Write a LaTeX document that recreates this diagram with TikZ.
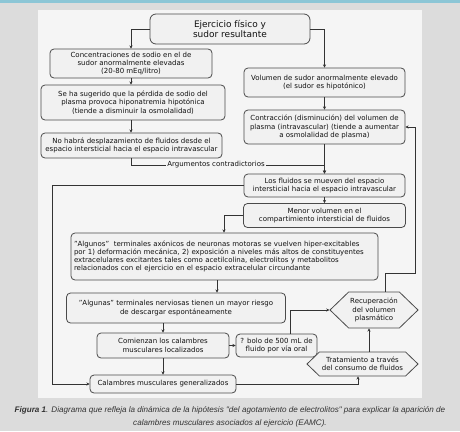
\documentclass[tikz,border=0pt]{standalone}
\usepackage{fontspec}
\setmainfont{DejaVu Sans}
\newfontfamily\capfont{Liberation Sans}
\usetikzlibrary{shapes.symbols,arrows.meta}
\definecolor{outerbg}{HTML}{DCDCDC}
\definecolor{topblue}{HTML}{8CC6D6}
\definecolor{panel}{HTML}{F5F5F5}
\definecolor{boxfill}{HTML}{F1F1F1}
\definecolor{boxline}{HTML}{4A4A4A}
\definecolor{connc}{HTML}{333333}
\definecolor{txt}{HTML}{111111}
\definecolor{capc}{HTML}{333333}
\begin{document}
\begin{tikzpicture}[x=1pt,y=-1pt,
  box/.style={draw=boxline, fill=boxfill, rounded corners=4pt, line width=0.8pt,
    align=center, inner sep=0pt, text=txt, font=\fontsize{7}{8.3}\selectfont},
  hexa/.style={draw=boxline, fill=boxfill, shape=signal, signal to=east and west,
    signal pointer angle=88, line width=0.8pt, align=center, inner sep=0pt,
    text=txt, font=\fontsize{7}{8.3}\selectfont},
  conn/.style={draw=connc, line width=0.7pt},
  arr/.style={conn, -{Stealth[length=3.2pt,width=3.2pt]}}]
\useasboundingbox (0,0) rectangle (460,431);
\fill[outerbg] (0,0) rectangle (460,431);
\fill[topblue] (0,0) rectangle (460,2.5);
\fill[panel] (38,10) rectangle (422,398);

% nodes
\node[box, minimum width=160, minimum height=30, rounded corners=6pt,
  font=\fontsize{9}{10.2}\selectfont] (n1) at (230,29) {Ejercicio físico y\\sudor resultante};
\node[box, minimum width=162, minimum height=29] (n2) at (131,63.5)
  {Concentraciones de sodio en el de\\sudor anormalmente elevadas\\(20-80 mEq/litro)};
\node[box, minimum width=184, minimum height=35] (n3) at (133,102.5)
  {Se ha sugerido que la pérdida de sodio del\\plasma provoca hiponatremia hipotónica\\(tiende a disminuir la osmolalidad)};
\node[box, minimum width=181, minimum height=25] (n4) at (131.5,145.5)
  {No habrá desplazamiento de fluidos desde el\\espacio intersticial hacia el espacio intravascular};
\node[inner sep=1.5pt, text=txt, font=\fontsize{7}{8.3}\selectfont] (arg) at (216,165)
  {Argumentos contradictorios};
\node[box, minimum width=161, minimum height=29] (n6) at (324.5,82.5)
  {Volumen de sudor anormalmente elevado\\(el sudor es hipotónico)};
\node[box, minimum width=161, minimum height=34] (n7) at (324.5,127)
  {Contracción (disminución) del volumen de\\plasma (intravascular) (tiende a aumentar\\a osmolalidad de plasma)};
\node[box, minimum width=161, minimum height=23] (n8) at (324.5,185.5)
  {Los fluidos se mueven del espacio\\intersticial hacia el espacio intravascular};
\node[box, minimum width=162, minimum height=24] (n9) at (324.5,215.5)
  {Menor volumen en el\\compartimiento intersticial de fluidos};
\node[box, minimum width=307, minimum height=47, text width=301, align=left,
  font=\fontsize{7}{7.8}\selectfont] (n10) at (224.5,256.5)
  {"Algunos"\ \ terminales axónicos de neuronas motoras se vuelven hiper-excitables\\por 1) deformación mecánica, 2) exposición a niveles más altos de constituyentes\\extracelulares excitantes tales como acetilcolina, electrolitos y metabolitos\\relacionados con el ejercicio en el espacio extracelular circundante};
\node[box, minimum width=219, minimum height=30] (n11) at (176,308)
  {"Algunas" terminales nerviosas tienen un mayor riesgo\\de descargar espontáneamente};
\node[box, minimum width=132, minimum height=25] (n12) at (163,345.5)
  {Comienzan los calambres\\musculares localizados};
\node[box, minimum width=81, minimum height=23] (n13) at (276.5,345.5)
  {? bolo de 500 mL de\\fluido por vía oral};
\node[box, minimum width=146, minimum height=18] (n14) at (163,384)
  {Calambres musculares generalizados};
\node[hexa, minimum width=88, minimum height=36] (h15) at (374,310)
  {Recuperación\\del volumen\\plasmático};
\node[hexa, minimum width=111, minimum height=24] (h16) at (362.5,364)
  {Tratamiento a través\\del consumo de fluidos};

% routing coordinates
\coordinate (lx) at (52,0);
\coordinate (rx) at (415,0);
\coordinate (ay) at (0,273);
\coordinate (c10) at (224,0);
\coordinate (c11) at (217,0);
\coordinate (c13) at (290,0);
\coordinate (c16) at (358,0);
\coordinate (hx) at (369,0);
\coordinate (tx) at (385,0);

% connectors
\draw[arr] (n1.west) -| (n2.north);
\draw[arr] (n1.east) -| (n6.north);
\draw[arr] (n2.south) -- (n2.south |- n3.north);
\draw[arr] (n2.south |- n3.south) -- (n2.south |- n4.north);
\draw[conn] (n2.south |- n4.south) |- (arg.west);
\draw[arr] (arg.east) -| (n8.north);
\draw[arr] (n6.south) -- (n7.north);
\draw[arr] (n7.south) -- (n8.north);
\draw[arr] (n8.west) -| (lx |- n14.west) -- (n14.west);
\draw[arr] (n8.south) -- (n9.north);
\draw[arr] (n9.west) -| (c10 |- n10.north);
\draw[arr] (c11 |- n10.south) -- (c11 |- n11.north);
\draw[arr] (n12.north |- n11.south) -- (n12.north);
\draw[arr] (n12.south) -- (n14.north);
\draw[arr] (n12.east) -- (n13.west);
\draw[arr] (c13 |- n13.north) |- (h15.west);
\draw[arr] (n14.east) -| (c16 |- h16.south);
\draw[arr] (hx |- h16.north) -- (hx |- h15.south);
\draw[arr] (tx |- h15.north) |- (rx |- ay) |- (n7.east);

% caption
\node[font=\capfont\itshape\fontsize{8.1}{13}\selectfont, text=capc, align=center, inner sep=0pt] (cap) at (230,416.5)
  {\textbf{Figura 1}. Diagrama que refleja la dinámica de la hipótesis "del agotamiento de electrolitos" para explicar la aparición de\\calambres musculares asociados al ejercicio (EAMC).};
\end{tikzpicture}
\end{document}
